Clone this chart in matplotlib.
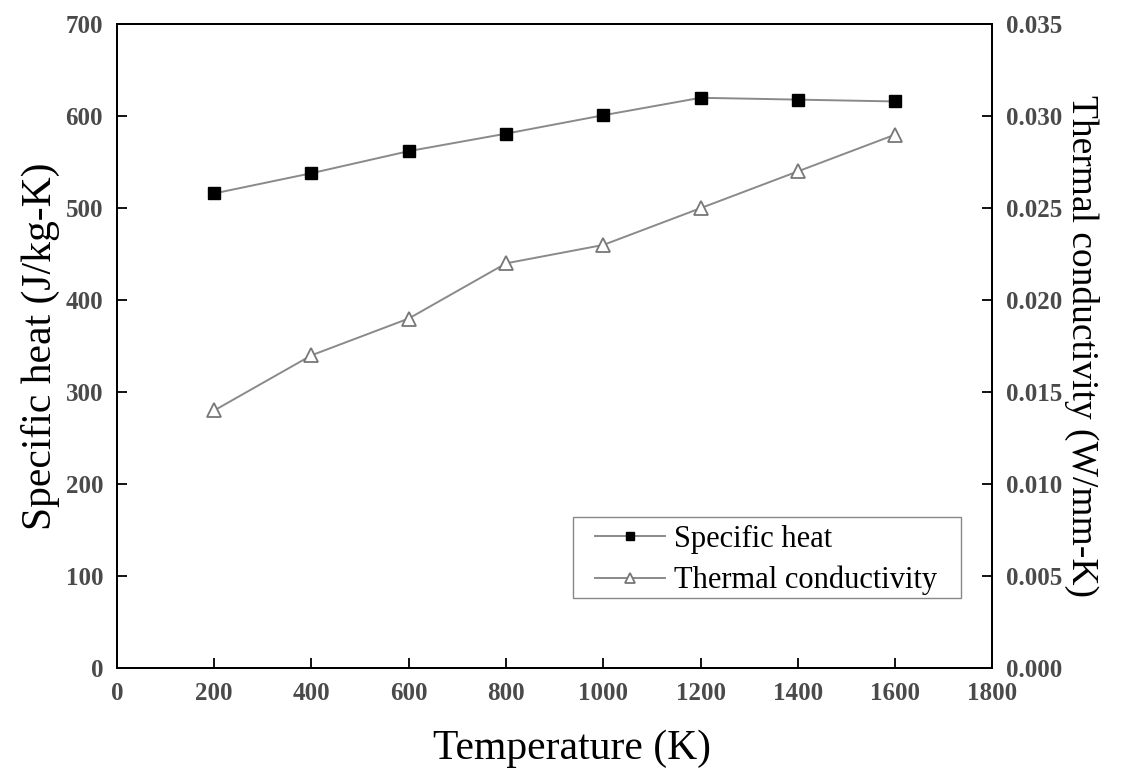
import matplotlib.pyplot as plt
from matplotlib.patches import Rectangle

plt.rcParams['font.family'] = ['Liberation Serif', 'DejaVu Serif']

temperature = [200, 400, 600, 800, 1000, 1200, 1400, 1600]
specific_heat = [516, 538, 562, 581, 601, 620, 618, 616]
conductivity = [0.0140, 0.0170, 0.0190, 0.0220, 0.0230, 0.0250, 0.0270, 0.0290]

fig = plt.figure(figsize=(11.24, 7.71), dpi=100)
ax = fig.add_axes([0.104, 0.1336, 0.779, 0.835])
ax2 = ax.twinx()

l1, = ax.plot(temperature, specific_heat, color='#8a8a8a', lw=1.4, marker='s',
              ms=8, mfc='black', mec='black', label='Specific heat')
l2, = ax2.plot(temperature, conductivity, color='#8a8a8a', lw=1.4, marker='^',
               ms=9.5, mfc='white', mec='#777777', mew=1.3, label='Thermal conductivity')

ax.set_xlim(0, 1800)
ax.set_ylim(0, 700)
ax2.set_ylim(0, 0.035)
ax.set_xticks(range(0, 1801, 200))
ax.set_yticks(range(0, 701, 100))
ax2.set_yticks([i * 0.005 for i in range(8)])
ax2.set_yticklabels(['%.3f' % (i * 0.005) for i in range(8)])

for a in (ax, ax2):
    a.tick_params(direction='in', length=7, width=1.3, labelsize=18, colors='black',
                  labelcolor='#4a4a4a', pad=10)
    for s in a.spines.values():
        s.set_linewidth(1.4)
    for t in a.get_xticklabels() + a.get_yticklabels():
        t.set_fontweight('bold')

ax.set_xlabel('Temperature (K)', fontsize=30, labelpad=16)
ax.xaxis.set_label_coords(0.52, -0.095)
ax.set_ylabel('Specific heat (J/kg-K)', fontsize=30, labelpad=4)
ax2.set_ylabel('Thermal conductivity (W/mm-K)', fontsize=27, rotation=270, labelpad=26)

# legend box drawn separately so the side padding can be wider than the top/bottom
ax2.add_patch(Rectangle((0.5205, 0.1087), 0.4441, 0.1258, transform=ax2.transAxes,
                        fill=False, edgecolor='#888888', lw=1.0, zorder=5))
leg = ax2.legend(handles=[l1, l2], loc='upper left', bbox_to_anchor=(0.537, 0.2345),
                 borderaxespad=0, fontsize=22, frameon=False, handlelength=2.3,
                 borderpad=0.25, labelspacing=0.4, handletextpad=0.3, markerscale=0.8)

fig.savefig('out.png', dpi=100)
